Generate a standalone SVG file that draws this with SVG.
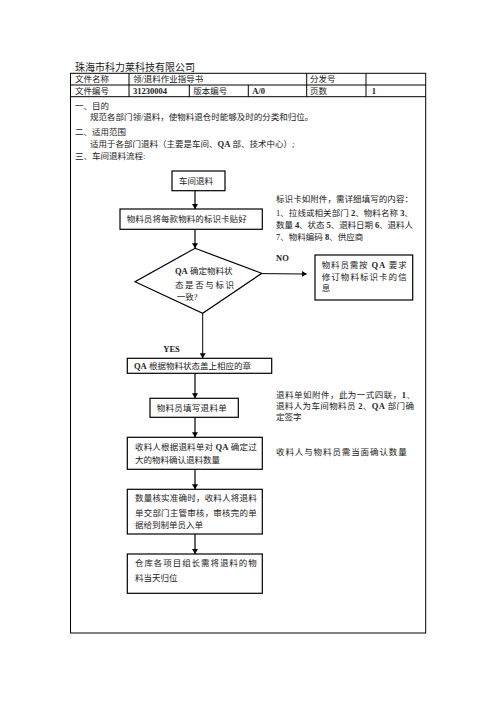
<svg xmlns="http://www.w3.org/2000/svg" width="496" height="702" viewBox="0 0 496 702">
<style>
text{font-family:"Liberation Serif","Noto Sans CJK SC",serif;font-size:8.5px;fill:#222}
.t{font-size:10px}
.b{font-weight:bold}
.box{fill:#fff;stroke:#000;stroke-width:1.2}
.tb{fill:none;stroke:#000;stroke-width:1}
.ga{stroke:#666;stroke-width:2;fill:none}
.ka{stroke:#000;stroke-width:1;fill:none}
</style>
<defs>
<marker id="ah" markerUnits="userSpaceOnUse" markerWidth="8" markerHeight="8" refX="5" refY="3" orient="auto">
<path d="M0,0 L5,3 L0,6 Z" fill="#000"/>
</marker>
</defs>
<rect width="496" height="702" fill="#fff"/>
<text class="t" x="75" y="71">珠海市科力莱科技有限公司</text>
<g id="table">
<rect class="tb" x="70.5" y="73.3" width="355.2" height="559.7" stroke-width="1.3"/>
<line class="tb" x1="70.5" y1="85" x2="425.7" y2="85"/>
<line class="tb" x1="70.5" y1="96.7" x2="425.7" y2="96.7"/>
<line class="tb" x1="129" y1="73.3" x2="129" y2="96.7"/>
<line class="tb" x1="306.7" y1="73.3" x2="306.7" y2="96.7"/>
<line class="tb" x1="366" y1="73.3" x2="366" y2="96.7"/>
<line class="tb" x1="189.3" y1="85" x2="189.3" y2="96.7"/>
<line class="tb" x1="248.3" y1="85" x2="248.3" y2="96.7"/>
<text x="75" y="82.3">文件名称</text>
<text x="133" y="82.3">领/退料作业指导书</text>
<text x="310" y="82.3">分发号</text>
<text x="75" y="94">文件编号</text>
<text class="b" x="133" y="94">31230004</text>
<text x="193.3" y="94">版本编号</text>
<text class="b" x="252.3" y="94">A/0</text>
<text x="310" y="94">页数</text>
<text class="b" x="371.7" y="94">1</text>
</g>
<g id="body">
<text x="75" y="108.7">一、目的</text>
<text x="90" y="120.3">规范各部门领/退料，使物料退仓时能够及时的分类和归位。</text>
<text x="75" y="135.3">二、适用范围</text>
<text x="90" y="147.3">适用于各部门退料（主要是车间、<tspan class="b">QA</tspan> 部、技术中心）;</text>
<text x="75" y="159.3">三、车间退料流程:</text>
</g>
<g id="connectors">
<line class="ga" x1="195" y1="190.7" x2="195" y2="209" marker-end="url(#ah)"/>
<line class="ga" x1="195" y1="229.3" x2="195" y2="248.3" marker-end="url(#ah)"/>
<line class="ka" x1="202.7" y1="313.3" x2="202.7" y2="358.3" marker-end="url(#ah)"/>
<line class="ka" x1="261.7" y1="273.6" x2="306.7" y2="274" marker-end="url(#ah)"/>
<line class="ga" x1="195" y1="373.3" x2="195" y2="398.3" marker-end="url(#ah)"/>
<line class="ga" x1="195" y1="417.3" x2="195" y2="437.3" marker-end="url(#ah)"/>
<line class="ga" x1="195" y1="469.3" x2="195" y2="489.3" marker-end="url(#ah)"/>
<line class="ga" x1="195" y1="534" x2="195" y2="554" marker-end="url(#ah)"/>
<text class="b" x="276" y="261">NO</text>
<text class="b" x="163.3" y="352">YES</text>
</g>
<g id="n1">
<rect class="box" x="172" y="171" width="53" height="19.7"/>
<text x="179" y="184">车间退料</text>
</g>
<g id="n2">
<rect class="box" x="120" y="209" width="142.3" height="20.3"/>
<text x="126.7" y="222.3" textLength="120" lengthAdjust="spacing">物料员将每款物料的标识卡贴好</text>
</g>
<g id="n3">
<polygon class="box" points="195,248.3 261.7,273.3 202.7,313.3 135,281.7"/>
<text x="175" y="273.5"><tspan class="b">QA</tspan> 确定物料状</text>
<text x="175" y="288" textLength="59" lengthAdjust="spacing">态是否与标识</text>
<text x="176.7" y="300">一致?</text>
</g>
<g id="n4">
<rect class="box" x="315" y="255" width="97.7" height="45"/>
<text x="321.7" y="268" textLength="85" lengthAdjust="spacing">物料员需按 <tspan class="b">QA</tspan> 要求</text>
<text x="321.7" y="279.7" textLength="85" lengthAdjust="spacing">修订物料标识卡的信</text>
<text x="321.7" y="291.3">息</text>
</g>
<g id="n5">
<rect class="box" x="127.3" y="358.3" width="144.4" height="15"/>
<text x="134" y="369"><tspan class="b">QA</tspan> 根据物料状态盖上相应的章</text>
</g>
<g id="n6">
<rect class="box" x="150" y="398.3" width="88.3" height="19"/>
<text x="156.7" y="411" textLength="70" lengthAdjust="spacing">物料员填写退料单</text>
</g>
<g id="n7">
<rect class="box" x="127.3" y="437.3" width="135" height="32"/>
<text x="135" y="450.3" textLength="121.7" lengthAdjust="spacing">收料人根据退料单对 <tspan class="b">QA</tspan> 确定过</text>
<text x="135" y="463">大的物料确认退料数量</text>
</g>
<g id="n8">
<rect class="box" x="127.3" y="489.3" width="135" height="44.7"/>
<text x="135" y="501.3" textLength="121.7" lengthAdjust="spacing">数量核实准确时，收料人将退料</text>
<text x="135" y="515.7" textLength="121.7" lengthAdjust="spacing">单交部门主管审核，审核完的单</text>
<text x="135" y="528">据给到制单员入单</text>
</g>
<g id="n9">
<rect class="box" x="127.3" y="554" width="135" height="39.3"/>
<text x="135" y="566.3" textLength="121.7" lengthAdjust="spacing">仓库各项目组长需将退料的物</text>
<text x="135" y="580.7">料当天归位</text>
</g>
<g id="notes">
<text x="276" y="202.3" textLength="137" lengthAdjust="spacing">标识卡如附件，需详细填写的内容：</text>
<text x="276" y="215.7" textLength="137" lengthAdjust="spacing">1、拉线或相关部门 <tspan class="b">2</tspan>、物料名称 <tspan class="b">3</tspan>、</text>
<text x="276" y="228" textLength="137" lengthAdjust="spacing">数量 <tspan class="b">4</tspan>、状态 <tspan class="b">5</tspan>、退料日期 <tspan class="b">6</tspan>、退料人</text>
<text x="276" y="240.3">7、物料编码 <tspan class="b">8</tspan>、供应商</text>
<text x="276" y="398" textLength="139" lengthAdjust="spacing">退料单如附件，此为一式四联，<tspan class="b">1</tspan>、</text>
<text x="276" y="409" textLength="138" lengthAdjust="spacing">退料人为车间物料员 <tspan class="b">2</tspan>、<tspan class="b">QA</tspan> 部门确</text>
<text x="276" y="419.7">定签字</text>
<text x="276" y="454.7" textLength="130.7" lengthAdjust="spacing">收料人与物料员需当面确认数量</text>
</g>
</svg>
